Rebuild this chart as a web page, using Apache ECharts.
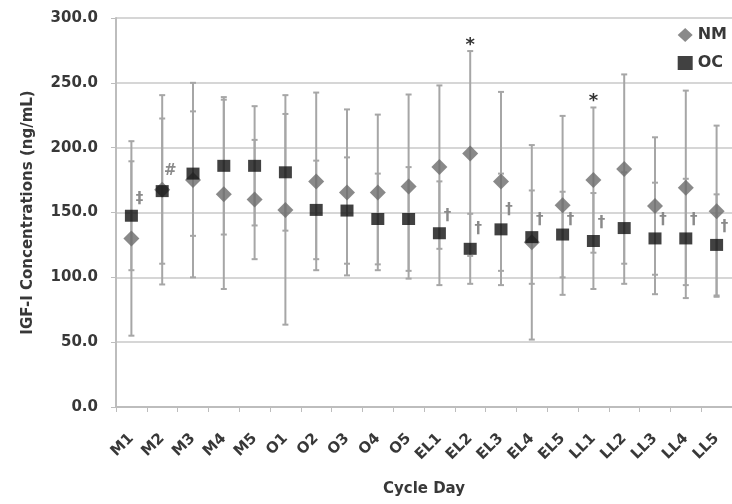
<!DOCTYPE html>
<html>
<head>
<meta charset="utf-8">
<script src="https://cdn.jsdelivr.net/npm/echarts@6/dist/echarts.min.js"></script>
<style>
  html, body { margin: 0; padding: 0; background: #fff; }
  #chart { width: 732px; height: 504px; }
</style>
</head>
<body>
<div id="chart"></div>
<script>
// cycle days
const cycleDays = ['M1', 'M2', 'M3', 'M4', 'M5', 'O1', 'O2', 'O3', 'O4', 'O5',
    'EL1', 'EL2', 'EL3', 'EL4', 'EL5', 'LL1', 'LL2', 'LL3', 'LL4', 'LL5'];

// NM group (mean and SD)
const nmMean = [130, 167.5, 175, 164, 160, 152, 174, 165.5, 165.5, 170,
    185, 195.5, 174, 127, 155.5, 175, 183.5, 155, 169, 151];
const nmSD = [75, 73, 75, 73, 46, 88.5, 68.5, 64, 60, 71,
    63, 79, 69, 75, 69, 56, 73, 53, 75, 66];

// OC group (mean and SD)
const ocMean = [147.5, 166.5, 180, 186, 186, 181, 152, 151.5, 145, 145,
    134, 122, 137, 131, 133, 128, 138, 130, 130, 125];
const ocSD = [42, 56, 48, 53, 46, 45, 38, 41, 35, 40,
    40, 27, 43, 36, 33, 37, 43, 43, 46, 39];

// significance marks next to the OC points
const sideMark = ['\u2021', '#', '', '', '', '', '', '', '', '',
    '\u2020', '\u2020', '\u2020', '\u2020', '\u2020', '\u2020', '', '\u2020', '\u2020', '\u2020'];
const sideMarkValue = [160, 182, null, null, null, null, null, null, null, null,
    147, 137, 152, 144, 144.5, 142, null, 144.5, 144.5, 138.5];

// asterisks above the NM bars
const starMark = ['', '', '', '', '', '', '', '', '', '',
    '', '*', '', '', '', '*', '', '', '', ''];
const starValue = [null, null, null, null, null, null, null, null, null, null,
    null, 279, null, null, null, 236, null, null, null, null];

const yTicks = [0, 50, 100, 150, 200, 250, 300];

const FONT = 'DejaVu Sans';
const TXT = '#383838';

// build error bar data [index, low, high]
const nmBars = nmMean.map((m, i) => [i, m - nmSD[i], m + nmSD[i]]);
const ocBars = ocMean.map((m, i) => [i, m - ocSD[i], m + ocSD[i]]);

function renderBar(params, api) {
    const x = api.value(0);
    const lo = api.coord([x, api.value(1)]);
    const hi = api.coord([x, api.value(2)]);
    const cap = 3;
    const style = { stroke: '#a6a6a6', lineWidth: 2 };
    return {
        type: 'group',
        children: [
            { type: 'line', shape: { x1: lo[0], y1: lo[1], x2: hi[0], y2: hi[1] }, style: style },
            { type: 'line', shape: { x1: lo[0] - cap, y1: lo[1], x2: lo[0] + cap, y2: lo[1] }, style: style },
            { type: 'line', shape: { x1: hi[0] - cap, y1: hi[1], x2: hi[0] + cap, y2: hi[1] }, style: style }
        ]
    };
}

function markData(texts, values) {
    const out = [];
    texts.forEach((t, i) => {
        if (t && values[i] != null) out.push([i, values[i], t]);
    });
    return out;
}

const sideData = markData(sideMark, sideMarkValue);
const starData = markData(starMark, starValue);

function renderSide(params, api) {
    const p = api.coord([api.value(0), api.value(1)]);
    return {
        type: 'text',
        x: p[0] + 8, y: p[1],
        style: {
            text: sideData[params.dataIndex][2], fill: '#8a8a8a', font: 'bold 15px ' + FONT,
            align: 'center', verticalAlign: 'middle'
        }
    };
}

function renderStar(params, api) {
    const p = api.coord([api.value(0), api.value(1)]);
    return {
        type: 'text',
        x: p[0], y: p[1],
        style: {
            text: starData[params.dataIndex][2], fill: '#333', font: 'bold 18px ' + FONT,
            align: 'center', verticalAlign: 'middle'
        }
    };
}

var myChart = echarts.init(document.getElementById('chart'));
var option;

option = {
    animation: false,
    backgroundColor: '#fff',
    grid: { left: 116, top: 18, width: 618, height: 389 },
    legend: {
        orient: 'vertical',
        right: 0,
        top: 22,
        itemGap: 12,
        itemWidth: 15,
        itemHeight: 14,
        textStyle: { fontFamily: FONT, fontWeight: 'bold', fontSize: 16, color: TXT },
        data: ['NM', 'OC']
    },
    xAxis: {
        type: 'category',
        data: cycleDays,
        name: 'Cycle Day',
        nameLocation: 'middle',
        nameGap: 75,
        nameTextStyle: { fontFamily: FONT, fontWeight: 'bold', fontSize: 15, color: TXT },
        axisLine: { lineStyle: { color: '#bdbdbd', width: 2 } },
        axisTick: { show: true, length: 5, lineStyle: { color: '#bdbdbd' } },
        axisLabel: {
            rotate: 45,
            margin: 29,
            fontFamily: FONT, fontWeight: 'bold', fontSize: 15, color: TXT
        },
        splitLine: { show: false }
    },
    yAxis: {
        type: 'value',
        min: 0,
        max: 300,
        interval: 50,
        name: 'IGF-I Concentrations (ng/mL)',
        nameLocation: 'middle',
        nameGap: 80,
        nameTextStyle: { fontFamily: FONT, fontWeight: 'bold', fontSize: 15, color: TXT },
        axisLine: { show: true, lineStyle: { color: '#bdbdbd', width: 2 } },
        axisTick: { show: true, length: 5, lineStyle: { color: '#bdbdbd' } },
        axisLabel: {
            margin: 18,
            fontFamily: FONT, fontWeight: 'bold', fontSize: 15, color: TXT,
            formatter: v => yTicks.includes(v) ? v.toFixed(1) : ''
        },
        splitLine: { show: true, lineStyle: { color: '#d6d6d6', width: 2 } }
    },
    series: [
        { type: 'custom', name: 'nmErr', renderItem: renderBar, data: nmBars, z: 2 },
        { type: 'custom', name: 'ocErr', renderItem: renderBar, data: ocBars, z: 2 },
        {
            type: 'scatter', name: 'NM', data: nmMean,
            symbol: 'diamond', symbolSize: 16,
            itemStyle: { color: '#6b6b6b' }, z: 3
        },
        {
            type: 'scatter', name: 'OC', data: ocMean,
            symbol: 'rect', symbolSize: [13, 12],
            itemStyle: { color: '#111' }, z: 4
        },
        { type: 'custom', name: 'side', renderItem: renderSide, data: sideData, z: 5 },
        { type: 'custom', name: 'star', renderItem: renderStar, data: starData, z: 5 }
    ]
};

option && myChart.setOption(option);
</script>
</body>
</html>
